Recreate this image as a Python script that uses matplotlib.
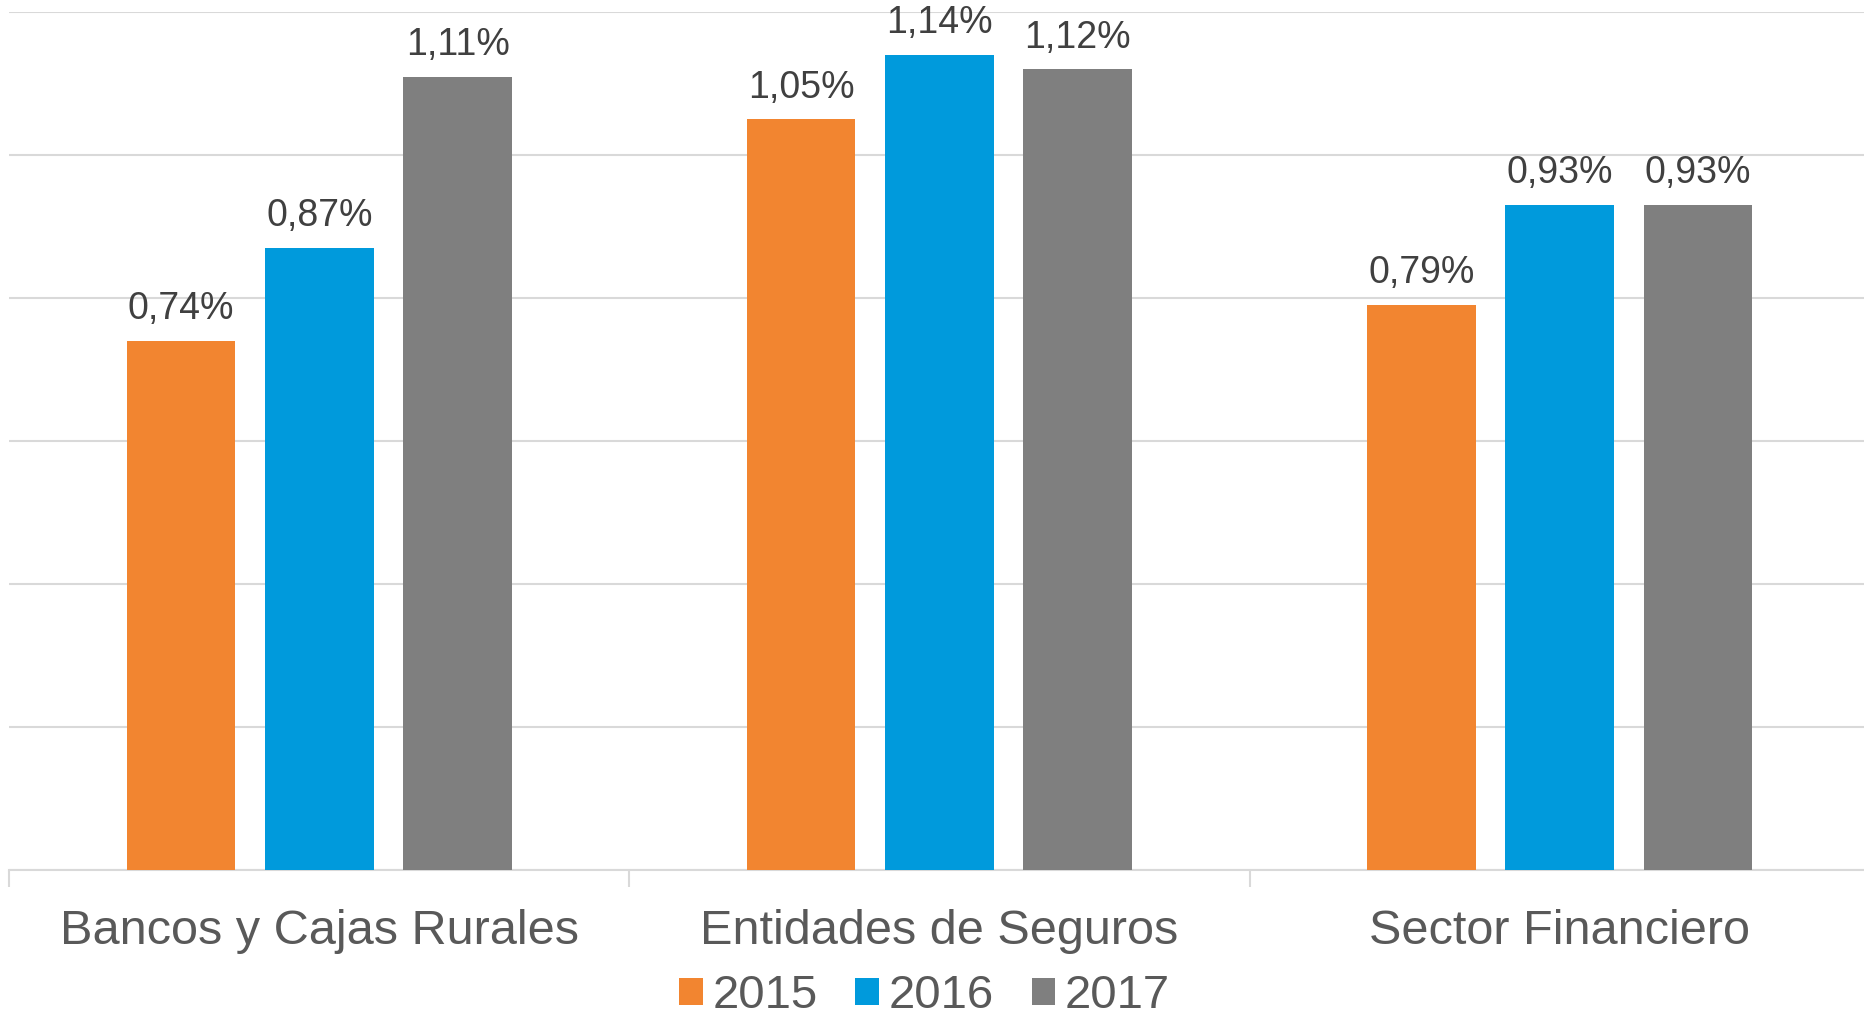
import numpy as np
import matplotlib
matplotlib.use("Agg")
import matplotlib.pyplot as plt

# ----------------------------------------------------
# DATA
# ----------------------------------------------------
categories = ["Bancos y Cajas Rurales", "Entidades de Seguros", "Sector Financiero"]
years = ["2015", "2016", "2017"]
v2015 = [0.74, 1.05, 0.79]
v2016 = [0.87, 1.14, 0.93]
v2017 = [1.11, 1.12, 0.93]
series = [v2015, v2016, v2017]
colors = ["#F28530", "#009ADC", "#7F7F7F"]

plt.rcParams["font.family"] = ["Liberation Sans", "DejaVu Sans"]

# ----------------------------------------------------
# FIGURE
# ----------------------------------------------------
fig = plt.figure(figsize=(18.64, 10.21), dpi=100)
ax = fig.add_axes([0.005, 0.148, 0.998, 0.840])

x = np.arange(len(categories))
width = 0.175
step = 0.223

for i, (vals, col, yr) in enumerate(zip(series, colors, years)):
    pos = x + (i - 1) * step
    bars = ax.bar(pos, vals, width, color=col, label=yr, zorder=3)
    for b, v in zip(bars, vals):
        ax.annotate(f"{v:.2f}%".replace(".", ","),
                    (b.get_x() + b.get_width() / 2, v),
                    xytext=(0, 10), textcoords="offset points",
                    ha="center", va="bottom", fontsize=27, color="#404040")

ax.set_xlim(-0.5, 2.5)
ax.set_ylim(0, 1.2)
ax.set_yticks(np.arange(0, 1.21, 0.2))
ax.yaxis.grid(True, color="#D9D9D9", linewidth=1.5, zorder=0)
ax.tick_params(axis="y", left=False, labelleft=False)

ax.set_xticks(x)
ax.set_xticklabels(categories, fontsize=35, color="#595959")
ax.tick_params(axis="x", which="major", length=0, pad=28)
ax.set_xticks([-0.5, 0.5, 1.5, 2.5], minor=True)
ax.tick_params(axis="x", which="minor", length=12, width=1.5, color="#D9D9D9")

for s in ["top", "right", "left"]:
    ax.spines[s].set_visible(False)
ax.spines["bottom"].set_color("#D9D9D9")
ax.spines["bottom"].set_linewidth(1.5)

fig.legend(loc="center", bbox_to_anchor=(0.496, 0.024), ncol=3, frameon=False,
           fontsize=34, handlelength=0.5, handleheight=0.5, handletextpad=0.2,
           columnspacing=0.8, labelcolor="#595959", borderaxespad=0)

fig.savefig("out.png", dpi=100)
plt.close()
